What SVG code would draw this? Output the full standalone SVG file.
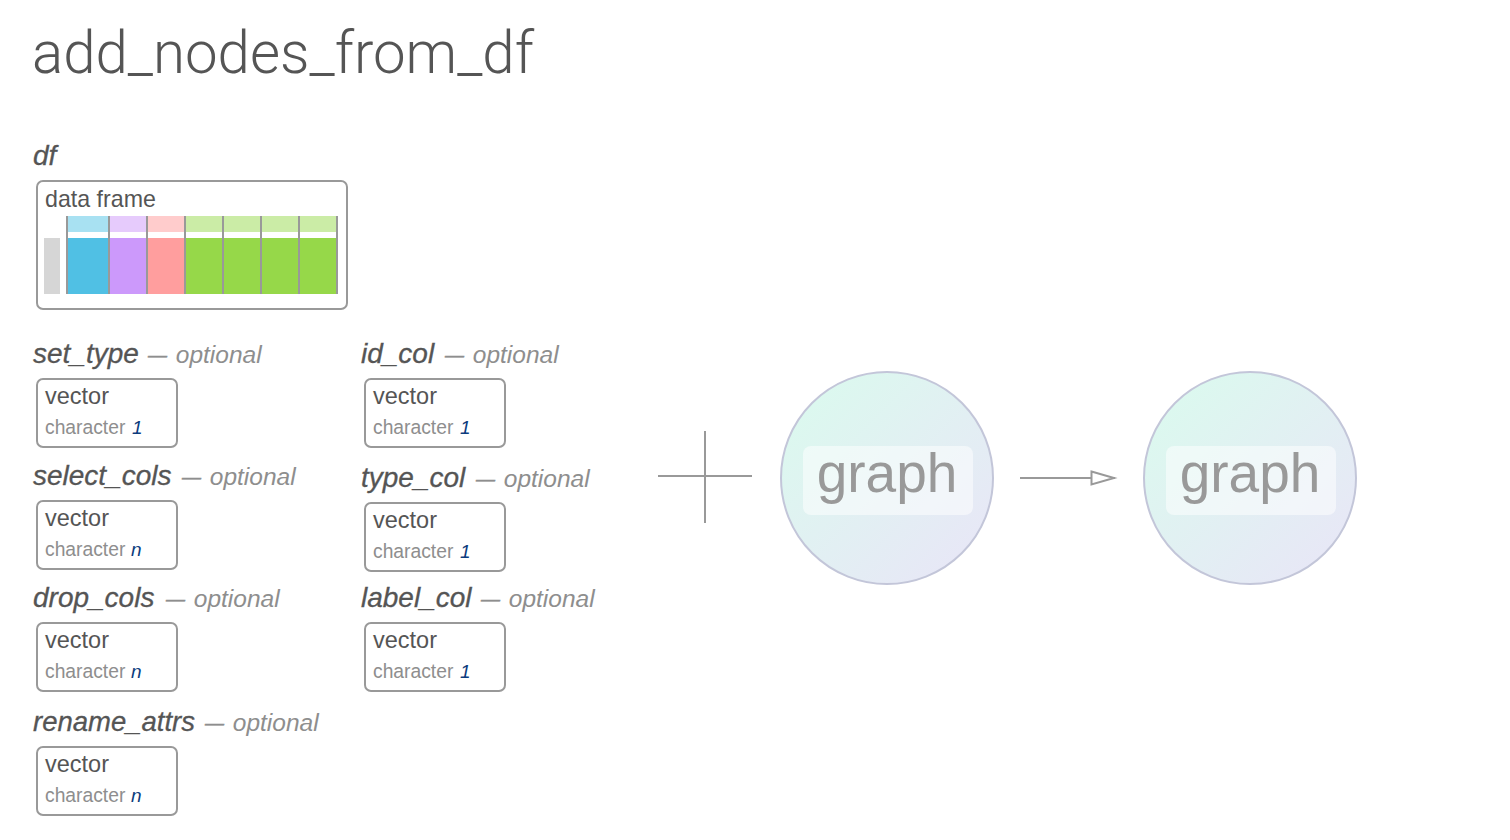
<svg xmlns="http://www.w3.org/2000/svg" width="1510" height="840" viewBox="0 0 1510 840">
<style>
text{font-family:"Liberation Sans",Arial,sans-serif}
.title{font-family:Roboto,"Liberation Sans",sans-serif;font-weight:300;font-size:60px;fill:#555}
.arg{font-style:italic;font-size:28px;fill:#555;stroke:#555;stroke-width:.3}
.opt{font-style:italic;font-size:24.500px;fill:#8e8e8e}
.dash{font-size:19px;stroke:#8e8e8e;stroke-width:.5}
.box{fill:#fff;stroke:#999;stroke-width:2}
.t{font-size:23.500px;fill:#555}
.s{font-size:19.300px;fill:#8e8e8e}
.v{font-size:19px;font-style:italic;fill:#0b3c7d}
.g{font-size:55px;fill:#999}
.c{fill:url(#grad);stroke:#c3c6d9;stroke-width:2}
.p{fill:#fff;fill-opacity:.5}
.l{stroke:#999;stroke-width:2;fill:none}
</style>
<defs>
<linearGradient id="grad" x1="0.15" y1="0.15" x2="0.85" y2="0.85"><stop offset="0" stop-color="#dcf8ef"/><stop offset="1" stop-color="#e7e8f6"/></linearGradient>
<marker id="ah" markerUnits="userSpaceOnUse" markerWidth="28" markerHeight="18" refX="25" refY="8" orient="auto"><path d="M1.500 1.500L24 8L1.500 14.500Z" fill="#fff" stroke="#999" stroke-width="2"/></marker>
</defs>
<text class="title" x="32" y="73" textLength="502" lengthAdjust="spacingAndGlyphs">add_nodes_from_df</text>
<g id="df">
<text class="arg" x="33" y="165">df</text>
<rect class="box" x="37" y="181" width="310" height="128" rx="6"/>
<text class="t" x="45" y="207" style="font-size:23.200px">data frame</text>
<rect x="44" y="238" width="16" height="56" fill="#d6d6d6"/>
<rect x="66" y="216" width="43" height="16" fill="#a8e1f2"/><rect x="66" y="238" width="43" height="56" fill="#50c0e4"/>
<rect x="109" y="216" width="38" height="16" fill="#e6cbfc"/><rect x="109" y="238" width="38" height="56" fill="#cc99fb"/>
<rect x="147" y="216" width="38" height="16" fill="#ffcccc"/><rect x="147" y="238" width="38" height="56" fill="#ff9e9e"/>
<rect x="185" y="216" width="153" height="16" fill="#cbeca6"/><rect x="185" y="238" width="153" height="56" fill="#96d849"/>
<path d="M67 216V294M109 216V294M147 216V294M185 216V294M223 216V294M261 216V294M299 216V294M337 216V294" class="l"/>
</g>
<g id="set_type"><text class="arg" x="33" y="363">set_type</text><text class="opt" x="148" y="363"><tspan class="dash" dy="-2">—</tspan> <tspan dx="2" dy="2">optional</tspan></text><rect class="box" x="37" y="379" width="140" height="68" rx="6"/><text class="t" x="45" y="404">vector</text><text class="s" x="45" y="434">character</text><text class="v" x="132" y="434">1</text></g>
<g id="select_cols"><text class="arg" x="33" y="485">select_cols</text><text class="opt" x="182" y="485"><tspan class="dash" dy="-2">—</tspan> <tspan dx="2" dy="2">optional</tspan></text><rect class="box" x="37" y="501" width="140" height="68" rx="6"/><text class="t" x="45" y="526">vector</text><text class="s" x="45" y="556">character</text><text class="v" x="131" y="556">n</text></g>
<g id="drop_cols"><text class="arg" x="33" y="607">drop_cols</text><text class="opt" x="166" y="607"><tspan class="dash" dy="-2">—</tspan> <tspan dx="2" dy="2">optional</tspan></text><rect class="box" x="37" y="623" width="140" height="68" rx="6"/><text class="t" x="45" y="648">vector</text><text class="s" x="45" y="678">character</text><text class="v" x="131" y="678">n</text></g>
<g id="rename_attrs"><text class="arg" x="33" y="731" textLength="162" lengthAdjust="spacingAndGlyphs">rename_attrs</text><text class="opt" x="205" y="731"><tspan class="dash" dy="-2">—</tspan> <tspan dx="2" dy="2">optional</tspan></text><rect class="box" x="37" y="747" width="140" height="68" rx="6"/><text class="t" x="45" y="772">vector</text><text class="s" x="45" y="802">character</text><text class="v" x="131" y="802">n</text></g>
<g id="id_col"><text class="arg" x="361" y="363">id_col</text><text class="opt" x="445" y="363"><tspan class="dash" dy="-2">—</tspan> <tspan dx="2" dy="2">optional</tspan></text><rect class="box" x="365" y="379" width="140" height="68" rx="6"/><text class="t" x="373" y="404">vector</text><text class="s" x="373" y="434">character</text><text class="v" x="460" y="434">1</text></g>
<g id="type_col"><text class="arg" x="361" y="487">type_col</text><text class="opt" x="476" y="487"><tspan class="dash" dy="-2">—</tspan> <tspan dx="2" dy="2">optional</tspan></text><rect class="box" x="365" y="503" width="140" height="68" rx="6"/><text class="t" x="373" y="528">vector</text><text class="s" x="373" y="558">character</text><text class="v" x="460" y="558">1</text></g>
<g id="label_col"><text class="arg" x="361" y="607">label_col</text><text class="opt" x="481" y="607"><tspan class="dash" dy="-2">—</tspan> <tspan dx="2" dy="2">optional</tspan></text><rect class="box" x="365" y="623" width="140" height="68" rx="6"/><text class="t" x="373" y="648">vector</text><text class="s" x="373" y="678">character</text><text class="v" x="460" y="678">1</text></g>
<g id="graph-in"><circle class="c" cx="887" cy="478" r="106"/><rect class="p" x="803" y="446" width="170" height="69" rx="8"/><text class="g" x="887" y="492" text-anchor="middle">graph</text></g>
<g id="graph-out"><circle class="c" cx="1250" cy="478" r="106"/><rect class="p" x="1166" y="446" width="170" height="69" rx="8"/><text class="g" x="1250" y="492" text-anchor="middle">graph</text></g>
<g id="connectors">
<path class="l" d="M658 476H752M705 431V523"/>
<path class="l" d="M1020 478H1115" marker-end="url(#ah)"/>
</g>
</svg>
